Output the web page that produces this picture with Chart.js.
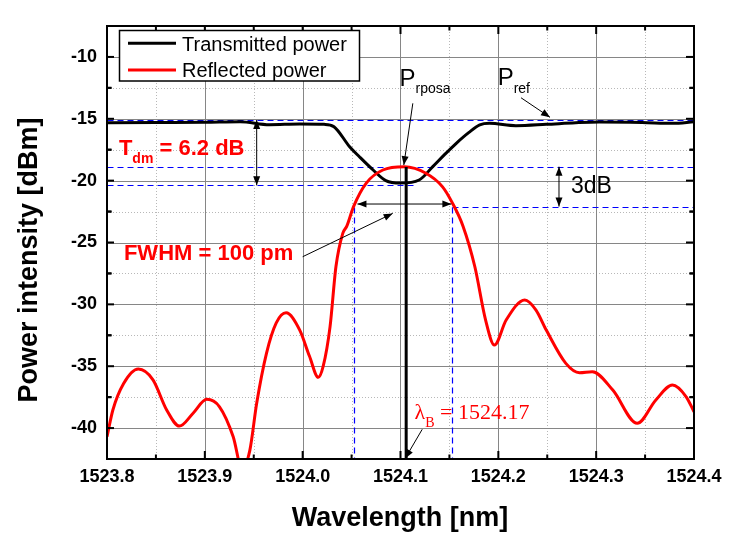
<!DOCTYPE html>
<html>
<head>
<meta charset="utf-8">
<script src="https://cdn.jsdelivr.net/npm/chart.js@4.4.0/dist/chart.umd.min.js"></script>
<style>
  html, body { margin: 0; padding: 0; background: #fff; }
</style>
</head>
<body>
<canvas id="fbgChart" width="738" height="538"></canvas>
<script>
// spectra: wavelength [nm] and power [dBm]
const transWl  = [1523.800, 1523.850, 1523.900, 1523.936, 1523.966, 1523.997, 1524.022, 1524.032, 1524.048, 1524.058,
                  1524.072, 1524.085, 1524.100, 1524.119, 1524.133, 1524.145, 1524.157, 1524.170, 1524.181, 1524.191,
                  1524.218, 1524.249, 1524.279, 1524.303, 1524.347, 1524.378, 1524.400];
const transPow = [-15.32, -15.30, -15.28, -15.24, -15.48, -15.42, -15.45, -15.64, -17.26, -18.07,
                  -19.14, -20.00, -20.20, -19.95, -18.87, -17.90, -16.98, -16.10, -15.50, -15.37,
                  -15.56, -15.45, -15.32, -15.26, -15.30, -15.37, -15.24];

const reflWl  = [1523.800, 1523.806, 1523.817, 1523.832, 1523.847, 1523.861, 1523.874, 1523.888, 1523.902, 1523.915,
                 1523.929, 1523.938, 1523.946, 1523.953, 1523.963, 1523.973, 1523.983, 1523.997, 1524.007, 1524.016,
                 1524.021, 1524.028, 1524.034, 1524.041, 1524.045, 1524.052, 1524.065, 1524.082, 1524.104, 1524.126,
                 1524.143, 1524.153, 1524.164, 1524.176, 1524.187, 1524.196, 1524.208, 1524.227, 1524.2385, 1524.249,
                 1524.269, 1524.283, 1524.296, 1524.317, 1524.342, 1524.361, 1524.378, 1524.392, 1524.400];
const reflPow = [-40.70, -38.54, -36.40, -35.23, -36.10, -38.54, -39.84, -38.80, -37.68, -38.28,
                 -40.70, -43.30, -41.80, -38.00, -33.96, -31.50, -30.68, -32.08, -34.20, -35.90,
                 -35.00, -31.80, -26.96, -24.26, -23.70, -22.10, -20.20, -19.14, -18.88, -19.40,
                 -20.50, -21.80, -23.70, -26.96, -31.27, -33.29, -31.27, -29.65, -30.46, -32.08,
                 -34.77, -35.53, -35.45, -36.93, -39.62, -37.73, -36.52, -37.47, -38.68];

const xTicks = [1523.8, 1523.9, 1524.0, 1524.1, 1524.2, 1524.3, 1524.4];
const yTicks = [-40, -35, -30, -25, -20, -15, -10];

// annotation geometry in data units
const guidesH = [[1523.8, 1524.4, -15.1], [1523.8, 1524.4, -18.87], [1523.8, 1524.114, -20.38], [1524.153, 1524.4, -22.1]];
const guidesV = [[1524.052, -22.1, -42.5], [1524.153, -22.1, -42.5]];
const arrows = [
  [1523.953, -15.1, 1523.953, -20.38, true],
  [1524.262, -18.87, 1524.262, -22.1, true],
  [1524.056, -21.89, 1524.152, -21.89, true],
  [1524.000, -26.15, 1524.092, -22.65, false],
  [1524.1126, -13.75, 1524.1034, -18.74, false],
  [1524.2232, -13.3, 1524.2528, -14.88, false],
  [1524.1222, -40.1, 1524.1048, -42.45, false]
];
const braggWl = 1524.1058;

const SANS = "'Liberation Sans', Arial, sans-serif";
const SERIF = "'Liberation Serif', 'Times New Roman', serif";

function arrowHead(ctx, x1, y1, x2, y2) {
  const ang = Math.atan2(y2 - y1, x2 - x1), L = 9, W = 3.5;
  const c = Math.cos(ang), s = Math.sin(ang);
  ctx.beginPath();
  ctx.moveTo(x2, y2);
  ctx.lineTo(x2 - L * c + W * s, y2 - L * s - W * c);
  ctx.lineTo(x2 - L * c - W * s, y2 - L * s + W * c);
  ctx.closePath();
  ctx.fill();
}

function subText(ctx, x, y, main, sub, rest, size, subSize, drop, weight, family) {
  ctx.font = weight + ' ' + size + 'px ' + family;
  ctx.fillText(main, x, y);
  x += ctx.measureText(main).width;
  ctx.font = weight + ' ' + subSize + 'px ' + family;
  ctx.fillText(sub, x, y + drop);
  x += ctx.measureText(sub).width;
  if (rest) {
    ctx.font = weight + ' ' + size + 'px ' + family;
    ctx.fillText(rest, x, y);
  }
}

const decor = {
  id: 'decor',
  beforeDatasetsDraw(chart) {
    const { ctx, chartArea: a, scales: { x, y } } = chart;
    const X = v => Math.round(x.getPixelForValue(v)) + 0.5;
    const Y = v => Math.round(y.getPixelForValue(v)) + 0.5;
    ctx.save();
    // minor grid (dotted), halfway between major ticks
    ctx.strokeStyle = '#b8b8b8';
    ctx.lineWidth = 1;
    ctx.setLineDash([1, 2]);
    for (let i = 0; i < xTicks.length - 1; i++) {
      const px = X((xTicks[i] + xTicks[i + 1]) / 2);
      ctx.beginPath(); ctx.moveTo(px, a.top); ctx.lineTo(px, a.bottom); ctx.stroke();
    }
    yTicks.forEach(v => {
      [v - 2.5, v + 2.5].forEach(m => {
        if (m <= y.min || m >= y.max) return;
        const py = Y(m);
        ctx.beginPath(); ctx.moveTo(a.left, py); ctx.lineTo(a.right, py); ctx.stroke();
      });
    });
    // major grid (solid)
    ctx.setLineDash([]);
    ctx.strokeStyle = '#868686';
    xTicks.forEach(v => { const px = X(v); ctx.beginPath(); ctx.moveTo(px, a.top); ctx.lineTo(px, a.bottom); ctx.stroke(); });
    yTicks.forEach(v => { const py = Y(v); ctx.beginPath(); ctx.moveTo(a.left, py); ctx.lineTo(a.right, py); ctx.stroke(); });
    // blue dashed guide lines
    ctx.strokeStyle = '#0000ff';
    ctx.lineWidth = 1.2;
    ctx.setLineDash([6, 4]);
    guidesH.forEach(g => { const py = Y(g[2]); ctx.beginPath(); ctx.moveTo(X(g[0]), py); ctx.lineTo(X(g[1]), py); ctx.stroke(); });
    guidesV.forEach(g => { const px = X(g[0]); ctx.beginPath(); ctx.moveTo(px, Y(g[1])); ctx.lineTo(px, Y(g[2])); ctx.stroke(); });
    ctx.restore();
  },
  afterDatasetsDraw(chart) {
    const { ctx, chartArea: a, scales: { x, y } } = chart;
    const X = v => x.getPixelForValue(v);
    const Y = v => y.getPixelForValue(v);
    ctx.save();

    // Bragg wavelength marker
    ctx.strokeStyle = '#000';
    ctx.lineWidth = 3;
    ctx.beginPath(); ctx.moveTo(X(braggWl), Y(-18.9)); ctx.lineTo(X(braggWl), a.bottom); ctx.stroke();

    // arrows
    ctx.lineWidth = 1;
    ctx.fillStyle = '#000';
    arrows.forEach(r => {
      const x1 = X(r[0]), y1 = Y(r[1]), x2 = X(r[2]), y2 = Y(r[3]);
      ctx.beginPath(); ctx.moveTo(x1, y1); ctx.lineTo(x2, y2); ctx.stroke();
      arrowHead(ctx, x1, y1, x2, y2);
      if (r[4]) arrowHead(ctx, x2, y2, x1, y1);
    });

    // frame and inward ticks
    ctx.lineWidth = 2;
    ctx.strokeRect(a.left, a.top, a.right - a.left, a.bottom - a.top);
    const tick = (px, py, dx, dy) => { ctx.beginPath(); ctx.moveTo(px, py); ctx.lineTo(px + dx, py + dy); ctx.stroke(); };
    xTicks.forEach((v, i) => {
      const px = X(v);
      tick(px, a.bottom, 0, -8); tick(px, a.top, 0, 8);
      if (i < xTicks.length - 1) {
        const pm = X((v + xTicks[i + 1]) / 2);
        tick(pm, a.bottom, 0, -4.5); tick(pm, a.top, 0, 4.5);
      }
    });
    yTicks.forEach(v => {
      const py = Y(v);
      tick(a.left, py, 7, 0); tick(a.right, py, -8, 0);
      [v - 2.5, v + 2.5].forEach(m => {
        if (m <= y.min || m >= y.max) return;
        const pm = Y(m);
        tick(a.left, pm, 4.5, 0); tick(a.right, pm, -4.5, 0);
      });
    });

    // labels
    ctx.textAlign = 'left';
    ctx.textBaseline = 'alphabetic';
    ctx.fillStyle = '#ff0000';
    subText(ctx, X(1523.8122), Y(-17.93), 'T', 'dm', ' = 6.2 dB', 22, 14, 8, 'bold', SANS);
    ctx.font = 'bold 22px ' + SANS;
    ctx.fillText('FWHM = 100 pm', X(1523.8173), Y(-26.42));
    subText(ctx, X(1524.1143), Y(-39.27), '\u03bb', 'B', ' = 1524.17', 22, 14, 8, 'normal', SERIF);
    ctx.fillStyle = '#000';
    subText(ctx, X(1524.099), Y(-12.33), 'P', 'rposa', '', 24, 14, 7.6, 'normal', SANS);
    subText(ctx, X(1524.1993), Y(-12.27), 'P', 'ref', '', 24, 14, 8.3, 'normal', SANS);
    ctx.font = '23px ' + SANS;
    ctx.fillText('3dB', X(1524.2742), Y(-21.03));

    // legend box
    const lx = a.left + 12.5, ly = a.top + 4.5;
    ctx.fillStyle = '#fff';
    ctx.fillRect(lx, ly, 240, 50.5);
    ctx.lineWidth = 1.5;
    ctx.strokeRect(lx, ly, 240, 50.5);
    chart.data.datasets.forEach((ds, i) => {
      const ry = ly + 12.8 + i * 26.7;
      ctx.strokeStyle = ds.borderColor;
      ctx.lineWidth = 3;
      ctx.beginPath(); ctx.moveTo(lx + 8.5, ry); ctx.lineTo(lx + 56.5, ry); ctx.stroke();
      ctx.fillStyle = '#000';
      ctx.font = '20px ' + SANS;
      ctx.fillText(ds.label, lx + 62.5, ry + 7.4);
    });

    // axis titles
    ctx.fillStyle = '#000';
    ctx.font = 'bold 27px ' + SANS;
    ctx.textAlign = 'center';
    ctx.fillText('Wavelength [nm]', 400, 526);
    ctx.translate(37, 260);
    ctx.rotate(-Math.PI / 2);
    ctx.fillText('Power intensity [dBm]', 0, 0);
    ctx.restore();
  }
};

new Chart(document.getElementById('fbgChart'), {
  type: 'line',
  data: {
    datasets: [
      {
        label: 'Transmitted power',
        data: transWl.map((w, i) => ({ x: w, y: transPow[i] })),
        borderColor: '#000000',
        borderWidth: 3,
        pointRadius: 0,
        cubicInterpolationMode: 'monotone',
        order: 1
      },
      {
        label: 'Reflected power',
        data: reflWl.map((w, i) => ({ x: w, y: reflPow[i] })),
        borderColor: '#ff0000',
        borderWidth: 3,
        pointRadius: 0,
        cubicInterpolationMode: 'monotone',
        order: 0
      }
    ]
  },
  options: {
    responsive: false,
    animation: false,
    devicePixelRatio: 1,
    layout: { padding: { top: 26, right: 44, left: 0, bottom: 0 } },
    plugins: { legend: { display: false }, tooltip: { enabled: false } },
    scales: {
      x: {
        type: 'linear',
        min: 1523.8,
        max: 1524.4,
        grid: { display: false, drawTicks: false },
        border: { display: false },
        afterBuildTicks: s => { s.ticks = xTicks.map(v => ({ value: v })); },
        afterFit: s => { s.height = 79; },
        ticks: {
          padding: 7, maxRotation: 0, autoSkip: false, color: '#000',
          font: { family: SANS, size: 18, weight: 'bold' },
          callback: v => v.toFixed(1)
        }
      },
      y: {
        type: 'linear',
        min: -42.5,
        max: -7.5,
        grid: { display: false, drawTicks: false },
        border: { display: false },
        afterBuildTicks: s => { s.ticks = yTicks.map(v => ({ value: v })); },
        afterFit: s => { s.width = 107; },
        ticks: {
          padding: 10, color: '#000',
          font: { family: SANS, size: 18, weight: 'bold' },
          callback: v => String(v)
        }
      }
    }
  },
  plugins: [decor]
});
</script>
</body>
</html>
